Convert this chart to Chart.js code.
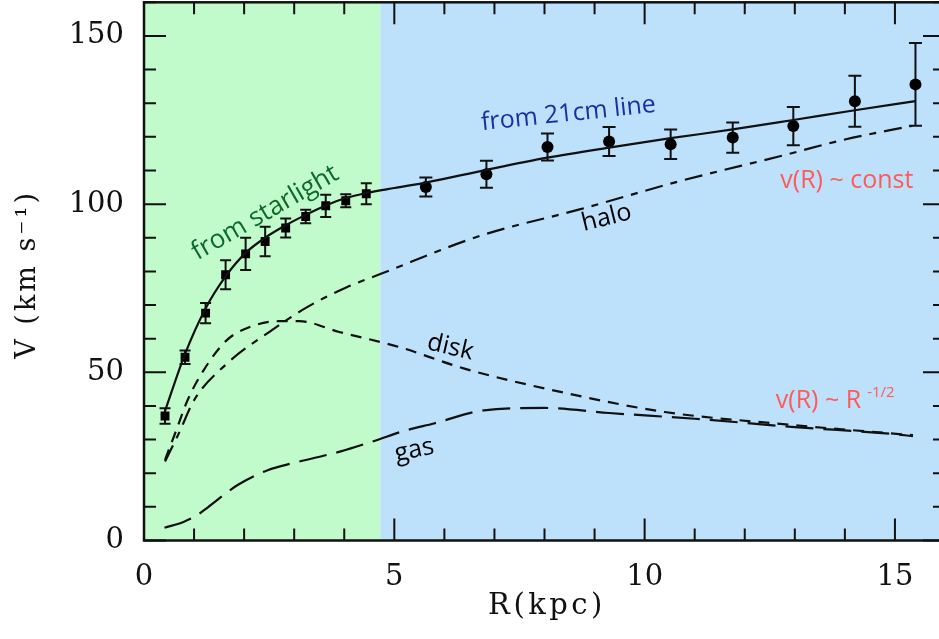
<!DOCTYPE html>
<html>
<head>
<meta charset="utf-8">
<script src="https://cdn.jsdelivr.net/npm/chart.js@4"></script>
<style>
  html, body { margin: 0; padding: 0; background: #fff; overflow: hidden; }
  canvas { display: block; margin-top: -4px; }
</style>
</head>
<body>
<canvas id="rotation" width="960" height="643"></canvas>
<script>
// measured points (starlight: squares, 21cm: circles)
const starR   = [0.42, 0.82, 1.23, 1.63, 2.03, 2.42, 2.83, 3.23, 3.63, 4.03, 4.44];
const starV   = [37.0, 54.5, 67.6, 79.0, 85.2, 88.9, 92.9, 96.3, 99.5, 101.0, 103.1];
const starErr = [2.3, 2.0, 3.0, 4.3, 4.8, 4.4, 2.8, 2.0, 3.3, 1.9, 3.1];

const hiR   = [5.63, 6.84, 8.06, 9.29, 10.52, 11.76, 12.97, 14.2, 15.41];
const hiV   = [105.1, 108.9, 117.0, 118.6, 117.8, 119.8, 123.2, 130.6, 135.6];
const hiErr = [2.8, 4.0, 4.0, 4.3, 4.4, 4.5, 5.7, 7.6, 12.3];

// model curves
const fitR = [0.42, 0.82, 1.23, 1.63, 2.03, 2.42, 2.83, 3.23, 3.63, 4.03, 4.44, 5.0, 5.63, 6.84, 8.06, 9.29, 10.52, 11.76, 12.97, 14.2, 15.41];
const fitV = [38.5, 55.5, 69, 78.5, 85.5, 90, 93.7, 96.8, 99.6, 101.8, 103.3, 104.8, 106.4, 110.2, 113.8, 116.8, 119.6, 122.2, 125, 127.9, 130.6];

const haloR = [0.42, 0.7, 1.0, 1.65, 2.6, 3.25, 4.05, 4.72, 6.72, 8.72, 10.72, 12.72, 14.0, 15.35];
const haloV = [23.5, 32, 41.7, 52.5, 63, 69.3, 75.3, 79.2, 90.6, 98.5, 106.9, 114.3, 119.2, 123.3];

const diskR = [0.42, 0.65, 0.87, 1.19, 1.65, 2.1, 2.7, 3.1, 3.9, 5.1, 6.4, 8.5, 10.4, 12.6, 15.36];
const diskV = [24, 33, 41.7, 50.6, 59.5, 63.4, 65.2, 65.2, 62, 57.5, 51.1, 43.6, 38.2, 34.8, 31.3];

const gasR = [0.41, 0.8, 1.07, 1.27, 1.87, 2.47, 3.0, 3.93, 4.6, 5.2, 5.79, 6.79, 8.0, 9.29, 11.0, 12.93, 15.0, 15.36];
const gasV = [3.8, 5.6, 7.6, 9.8, 16.5, 20.9, 23.1, 26.5, 29.6, 32.6, 34.8, 38.7, 39.4, 37.9, 36.2, 33.8, 31.6, 31.0];

// edge of the optical (starlight) region, kpc
const opticalEdge = 4.72;

const xTicks = [0, 5, 10, 15];
const yTicks = [0, 50, 100, 150];

const xy = (xs, ys) => xs.map((x, i) => ({ x, y: ys[i] }));
const px = (c, v) => c.scales.x.getPixelForValue(v);
const py = (c, v) => c.scales.y.getPixelForValue(v);

const notes = [
  { text: 'from starlight', x: 2.42, y: 97.4, rot: -30, size: 26, color: '#0b6b2b' },
  { text: 'from 21cm line', x: 8.48, y: 126.8, rot: -6, size: 25, color: '#1a2fa5' },
  { text: 'halo', x: 9.24, y: 95.9, rot: -14, size: 25, color: '#000' },
  { text: 'disk', x: 6.12, y: 57.4, rot: 13, size: 25, color: '#000' },
  { text: 'gas', x: 5.4, y: 26.8, rot: -12, size: 25, color: '#000' },
  { text: 'v(R) ~ const', x: 14.04, y: 106.9, rot: 0, size: 25, color: '#ff5a5a' }
];

const backdrop = {
  id: 'backdrop',
  beforeDatasetsDraw(c) {
    const { ctx, chartArea: a } = c;
    const split = px(c, opticalEdge);
    ctx.save();
    ctx.fillStyle = '#c2fbcb';
    ctx.fillRect(a.left, a.top, split - a.left, a.bottom - a.top);
    ctx.fillStyle = '#bde0fb';
    ctx.fillRect(split, a.top, a.right - split, a.bottom - a.top);
    ctx.restore();
  }
};

const errorBars = {
  id: 'errorBars',
  beforeDatasetsDraw(c) {
    const ctx = c.ctx;
    ctx.save();
    ctx.strokeStyle = '#111';
    ctx.lineWidth = 2;
    const draw = (xs, ys, es, cap) => {
      xs.forEach((r, i) => {
        const x = px(c, r), t = py(c, ys[i] + es[i]), b = py(c, ys[i] - es[i]);
        ctx.beginPath();
        ctx.moveTo(x, t); ctx.lineTo(x, b);
        ctx.moveTo(x - cap, t); ctx.lineTo(x + cap, t);
        ctx.moveTo(x - cap, b); ctx.lineTo(x + cap, b);
        ctx.stroke();
      });
    };
    draw(starR, starV, starErr, 5.5);
    draw(hiR, hiV, hiErr, 6.5);
    ctx.restore();
  }
};

const frame = {
  id: 'frame',
  afterDatasetsDraw(c) {
    const { ctx, chartArea: a } = c;
    ctx.save();
    ctx.strokeStyle = '#111';
    ctx.lineWidth = 2;
    ctx.beginPath();
    for (let v = 0; v <= 16; v++) {
      const x = px(c, v), len = v % 5 === 0 ? 22 : 12;
      ctx.moveTo(x, a.bottom); ctx.lineTo(x, a.bottom - len);
      ctx.moveTo(x, a.top); ctx.lineTo(x, a.top + len);
    }
    for (let v = 0; v <= 160; v += 10) {
      const y = py(c, v), len = v % 50 === 0 ? 22 : 12;
      ctx.moveTo(a.left, y); ctx.lineTo(a.left + len, y);
      ctx.moveTo(a.right, y); ctx.lineTo(a.right - len, y);
    }
    ctx.stroke();
    ctx.lineWidth = 2.5;
    ctx.strokeRect(a.left, a.top, a.right - a.left, a.bottom - a.top);
    ctx.restore();
  },
  afterDraw(c) {
    const { ctx, chartArea: a } = c;
    ctx.save();
    // notes on the curves
    ctx.textAlign = 'center';
    ctx.textBaseline = 'middle';
    notes.forEach(n => {
      ctx.save();
      ctx.font = n.size + 'px "Open Sans"';
      ctx.fillStyle = n.color;
      ctx.translate(px(c, n.x), py(c, n.y));
      ctx.rotate(n.rot * Math.PI / 180);
      ctx.fillText(n.text, 0, 0);
      ctx.restore();
    });
    // v(R) ~ R^-1/2
    ctx.font = '25px "Open Sans"';
    ctx.fillStyle = '#ff5a5a';
    ctx.textAlign = 'left';
    ctx.textBaseline = 'alphabetic';
    const lx = px(c, 12.62), ly = py(c, 39.3);
    ctx.fillText('v(R) ~ R', lx, ly);
    const w = ctx.measureText('v(R) ~ R').width;
    ctx.font = '15px "Open Sans"';
    ctx.fillText('-1/2', lx + w + 6, ly - 11);

    // axis titles
    ctx.fillStyle = '#111';
    ctx.textAlign = 'center';
    ctx.textBaseline = 'middle';
    ctx.font = '29px "DejaVu Serif"';
    ctx.letterSpacing = '3.5px';
    ctx.fillText('R(kpc)', a.left + 403, a.bottom + 66);
    ctx.font = '27px "DejaVu Serif"';
    ctx.letterSpacing = '3px';
    ctx.translate(28, (a.top + a.bottom) / 2 + 3);
    ctx.rotate(-Math.PI / 2);
    ctx.fillText('V (km s\u207B\u00B9)', 0, 0);
    ctx.restore();
  }
};

const lineSet = (xs, ys, dash, width) => ({
  type: 'line',
  data: xy(xs, ys),
  borderColor: '#111',
  borderWidth: width,
  borderDash: dash,
  pointRadius: 0,
  cubicInterpolationMode: 'monotone',
  fill: false
});

new Chart(document.getElementById('rotation'), {
  type: 'scatter',
  data: {
    datasets: [
      lineSet(fitR, fitV, [], 2.2),
      lineSet(haloR, haloV, [18, 8, 7, 8], 2.2),
      lineSet(diskR, diskV, [11, 8], 2.2),
      lineSet(gasR, gasV, [28, 10], 2.2),
      {
        data: xy(starR, starV),
        pointStyle: 'rect',
        pointRadius: 6.3,
        backgroundColor: '#000',
        borderColor: '#000',
        borderWidth: 0
      },
      {
        data: xy(hiR, hiV),
        pointStyle: 'circle',
        pointRadius: 6,
        backgroundColor: '#000',
        borderColor: '#000',
        borderWidth: 0
      }
    ]
  },
  options: {
    responsive: false,
    animation: false,
    devicePixelRatio: 1,
    layout: { padding: { top: 1.5, right: 15, left: 0, bottom: 0 } },
    plugins: { legend: { display: false }, tooltip: { enabled: false } },
    scales: {
      x: {
        type: 'linear',
        min: 0,
        max: 16,
        grid: { display: false, drawTicks: false },
        border: { display: false },
        ticks: {
          includeBounds: false,
          padding: 20,
          maxRotation: 0,
          color: '#111',
          font: { family: 'DejaVu Serif', size: 29 }
        },
        afterBuildTicks: s => { s.ticks = xTicks.map(v => ({ value: v })); },
        afterFit: s => { s.height = 98.5; s.paddingLeft = 0; s.paddingRight = 0; }
      },
      y: {
        type: 'linear',
        min: 0,
        max: 160,
        grid: { display: false, drawTicks: false },
        border: { display: false },
        ticks: {
          includeBounds: false,
          padding: 20,
          color: '#111',
          font: { family: 'DejaVu Serif', size: 29 }
        },
        afterBuildTicks: s => { s.ticks = yTicks.map(v => ({ value: v })); },
        afterFit: s => { s.width = 144; s.paddingTop = 0; s.paddingBottom = 0; }
      }
    }
  },
  plugins: [backdrop, errorBars, frame]
});
</script>
</body>
</html>
